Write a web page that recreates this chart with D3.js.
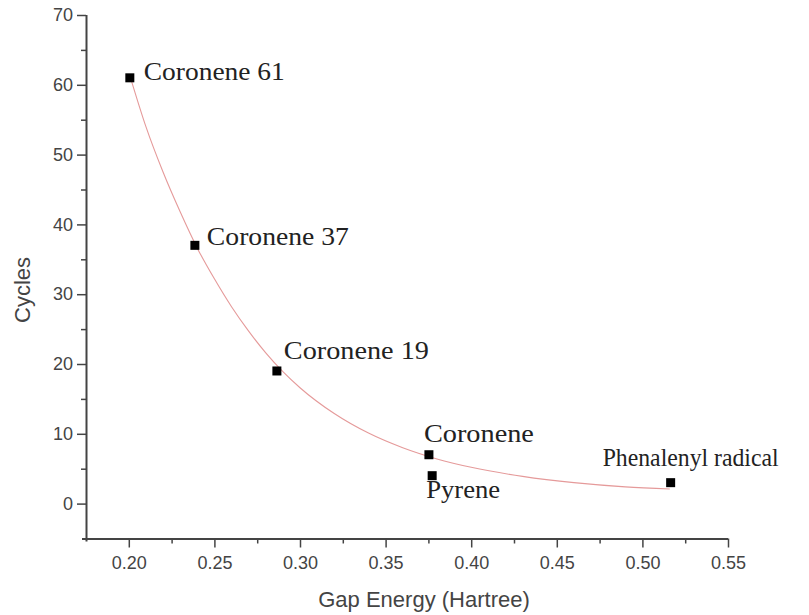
<!DOCTYPE html>
<html>
<head>
<script src="https://d3js.org/d3.v7.min.js"></script>
<style>
body { margin: 0; background: #fff; }
.tick text { font-family: "Liberation Sans", Arial, sans-serif; fill: #444; }
.lbl { font-family: "Liberation Serif", "Times New Roman", serif; fill: #222; }
.title { font-family: "Liberation Sans", Arial, sans-serif; fill: #444; }
</style>
</head>
<body>
<svg width="809" height="615"></svg>
<script>

// molecules, gap energy (Hartree) and cycles
const names = ["Coronene 61", "Coronene 37", "Coronene 19", "Coronene", "Pyrene", "Phenalenyl radical"];
const gap = [0.2006, 0.2386, 0.2865, 0.3753, 0.3772, 0.5165];
const cycles = [61, 37, 19, 7, 4, 3];

// fitted decay curve, sampled by eye along the red line
const fitGap = [0.201, 0.21, 0.22, 0.23, 0.24, 0.25, 0.26, 0.27, 0.28, 0.29, 0.30, 0.32, 0.34, 0.36, 0.38, 0.40, 0.43, 0.46, 0.49, 0.516];
const fitCycles = [61, 54, 47.5, 41.8, 36.6, 32.2, 28.2, 24.7, 21.6, 18.9, 16.6, 12.9, 10.1, 8.0, 6.4, 5.2, 3.9, 3.0, 2.4, 2.1];

const xTicks = [0.20, 0.25, 0.30, 0.35, 0.40, 0.45, 0.50, 0.55];
const xMinor = [0.225, 0.275, 0.325, 0.375, 0.425, 0.475, 0.525];
const yTicks = [0, 10, 20, 30, 40, 50, 60, 70];
const yMinor = [5, 15, 25, 35, 45, 55, 65];

// label placement relative to each marker (dx, baseline dy, text width)
const labelPos = [[14, 2, 141], [12, 0, 142], [7, -12, 145], [-5, -13, 110], [-6, 22, 74], [-68, -17, 176]];

var svg = d3.select("svg");

var x = d3.scaleLinear().domain([0.175, 0.55]).range([86, 728]);
var y = d3.scaleLinear().domain([-5, 70]).range([538.5, 15]);

// minor ticks first
svg.append("g")
    .attr("transform", "translate(0," + y(-5) + ")")
    .call(d3.axisBottom(x).tickValues(xMinor).tickSize(5).tickFormat(""))
    .call(g => g.select(".domain").remove())
    .selectAll("line").attr("stroke", "#444").attr("stroke-width", 1.5);

svg.append("g")
    .attr("transform", "translate(" + x(0.175) + ",0)")
    .call(d3.axisLeft(y).tickValues(yMinor).tickSize(5).tickFormat(""))
    .call(g => g.select(".domain").remove())
    .selectAll("line").attr("stroke", "#444").attr("stroke-width", 1.5);

var xAxis = svg.append("g")
    .attr("transform", "translate(0," + y(-5) + ")")
    .call(d3.axisBottom(x).tickValues(xTicks).tickSize(9).tickSizeOuter(0).tickPadding(9).tickFormat(d3.format(".2f")));
xAxis.select(".domain").attr("stroke", "#444").attr("stroke-width", 2).attr("d", "M82,0.5H" + x(0.55));
xAxis.selectAll(".tick line").attr("stroke", "#444").attr("stroke-width", 1.5);
xAxis.selectAll(".tick text").style("font-size", "18px");

var yAxis = svg.append("g")
    .attr("transform", "translate(" + x(0.175) + ",0)")
    .call(d3.axisLeft(y).tickValues(yTicks).tickSize(9).tickSizeOuter(0).tickPadding(4));
yAxis.select(".domain").attr("stroke", "#444").attr("stroke-width", 2).attr("d", "M0.5," + y(70) + "V" + (y(-5) + 3));
yAxis.selectAll(".tick line").attr("stroke", "#444").attr("stroke-width", 1.5);
yAxis.selectAll(".tick text").style("font-size", "18px");

// axis titles
svg.append("text")
    .attr("class", "title")
    .attr("x", 424)
    .attr("y", 607)
    .attr("text-anchor", "middle")
    .style("font-size", "22px")
    .text("Gap Energy (Hartree)");

svg.append("text")
    .attr("class", "title")
    .attr("transform", "translate(30,290) rotate(-90)")
    .attr("text-anchor", "middle")
    .style("font-size", "22px")
    .text("Cycles");

// fit line
var fit = fitGap.map(function(d, i) { return [d, fitCycles[i]]; });
var line = d3.line()
    .x(function(d) { return x(d[0]); })
    .y(function(d) { return y(d[1]); })
    .curve(d3.curveMonotoneX);

svg.append("path")
    .datum(fit)
    .attr("d", line)
    .attr("fill", "none")
    .attr("stroke", "#e59a9a")
    .attr("stroke-width", 1.1);

// points
var pts = names.map(function(n, i) { return { name: n, gap: gap[i], cycles: cycles[i], pos: labelPos[i] }; });

svg.selectAll(".pt")
    .data(pts)
    .enter().append("rect")
      .attr("class", "pt")
      .attr("x", function(d) { return x(d.gap) - 4.5; })
      .attr("y", function(d) { return y(d.cycles) - 4.5; })
      .attr("width", 9)
      .attr("height", 9)
      .attr("fill", "#000");

svg.selectAll(".lbl")
    .data(pts)
    .enter().append("text")
      .attr("class", "lbl")
      .attr("x", function(d) { return x(d.gap) + d.pos[0]; })
      .attr("y", function(d) { return y(d.cycles) + d.pos[1]; })
      .attr("textLength", function(d) { return d.pos[2]; })
      .attr("lengthAdjust", "spacingAndGlyphs")
      .style("font-size", "25px")
      .text(function(d) { return d.name; });

</script>
</body>
</html>
